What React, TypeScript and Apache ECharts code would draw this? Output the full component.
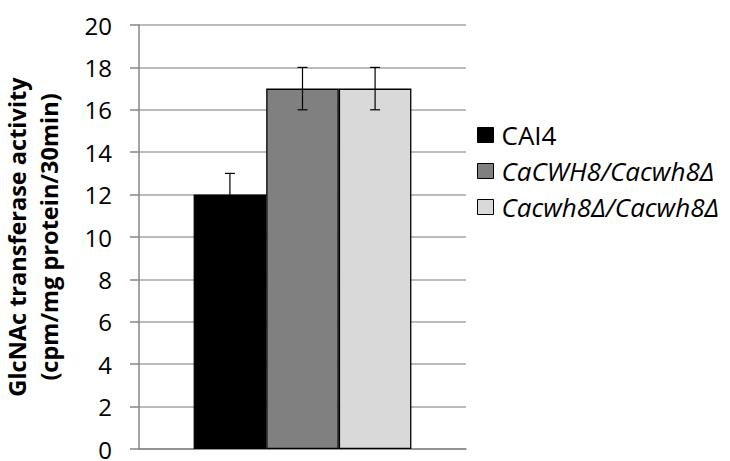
import React, { useEffect, useRef } from "react";
import * as echarts from "echarts";

const categories = [""];
const seriesNames = ["CAI4", "CaCWH8/Cacwh8Δ", "Cacwh8Δ/Cacwh8Δ"];
const seriesValues = [[12], [17], [17]];
const seriesErrors = [[1], [1], [1]];
const seriesColors = ["#000000", "#808080", "#d9d9d9"];
const italicNames = [false, true, true];
const yTicks = { min: 0, max: 20, interval: 2 };

const FONT = "'Open Sans', 'Noto Sans', sans-serif";

export default function App() {
  const ref = useRef<HTMLDivElement>(null);
  useEffect(() => {
    if (!ref.current) return;
    const chart = echarts.init(ref.current, undefined, { renderer: "svg" });
    const nS = seriesNames.length;
    const barPct = 22.2;
    const bars = seriesNames.map((name, i) => ({
      name,
      type: "bar",
      data: seriesValues[i],
      barWidth: barPct + "%",
      barGap: "0%",
      itemStyle: { color: seriesColors[i], borderColor: "#000", borderWidth: 1.3 },
      z: 2,
    }));
    const errSeries = seriesNames.map((name, i) => ({
      type: "custom",
      name: name + "_err",
      data: seriesValues[i].map((v, j) => [j, v - seriesErrors[i][j], v + seriesErrors[i][j]]),
      z: 5,
      renderItem: (params: any, api: any) => {
        const cat = api.value(0);
        const lo = api.coord([cat, api.value(1)]);
        const hi = api.coord([cat, api.value(2)]);
        const band = api.size([1, 0])[0];
        const bw = (band * barPct) / 100;
        const x = lo[0] + (i - (nS - 1) / 2) * bw;
        const cap = 5;
        const style = { stroke: "#000", lineWidth: 1.2 };
        return {
          type: "group",
          children: [
            { type: "line", shape: { x1: x, y1: lo[1], x2: x, y2: hi[1] }, style },
            { type: "line", shape: { x1: x - cap, y1: hi[1], x2: x + cap, y2: hi[1] }, style },
            { type: "line", shape: { x1: x - cap, y1: lo[1], x2: x + cap, y2: lo[1] }, style },
          ],
        };
      },
    }));
    chart.setOption({
      animation: false,
      grid: { left: 137, right: 264, top: 25, bottom: 7, containLabel: false },
      legend: {
        orient: "vertical",
        left: 472,
        top: 117,
        itemWidth: 16,
        itemHeight: 15,
        itemGap: 10,
        icon: "rect",
        textStyle: { fontFamily: FONT, fontSize: 26, color: "#000", padding: [0, 0, 0, 3] },
        data: seriesNames.map((n, i) => ({
          name: n,
          itemStyle: { color: seriesColors[i], borderColor: "#000", borderWidth: 1 },
          textStyle: { fontStyle: italicNames[i] ? "italic" : "normal" },
        })),
      },
      xAxis: {
        type: "category",
        data: categories,
        axisLine: { show: true, lineStyle: { color: "#868686", width: 1.5 } },
        axisTick: { show: false },
        axisLabel: { show: false },
      },
      yAxis: {
        type: "value",
        min: yTicks.min,
        max: yTicks.max,
        interval: yTicks.interval,
        name: "GlcNAc transferase activity\n(cpm/mg protein/30min)",
        nameLocation: "middle",
        nameRotate: 90,
        nameGap: 74,
        nameTextStyle: { fontFamily: FONT, fontSize: 23.5, fontWeight: "bold", color: "#000", lineHeight: 32 },
        axisLine: { show: true, lineStyle: { color: "#868686", width: 1.5 } },
        axisTick: { show: true, inside: false, length: 9, lineStyle: { color: "#868686", width: 1.5 } },
        axisLabel: { fontFamily: FONT, fontSize: 24, color: "#000", margin: 27 },
        splitLine: { show: true, lineStyle: { color: "#a6a6a6", width: 1.5 } },
      },
      series: [...bars, ...errSeries],
    });
    return () => chart.dispose();
  }, []);
  return <div ref={ref} style={{ width: 730, height: 461, position: "absolute", left: 0, top: 0 }} />;
}
